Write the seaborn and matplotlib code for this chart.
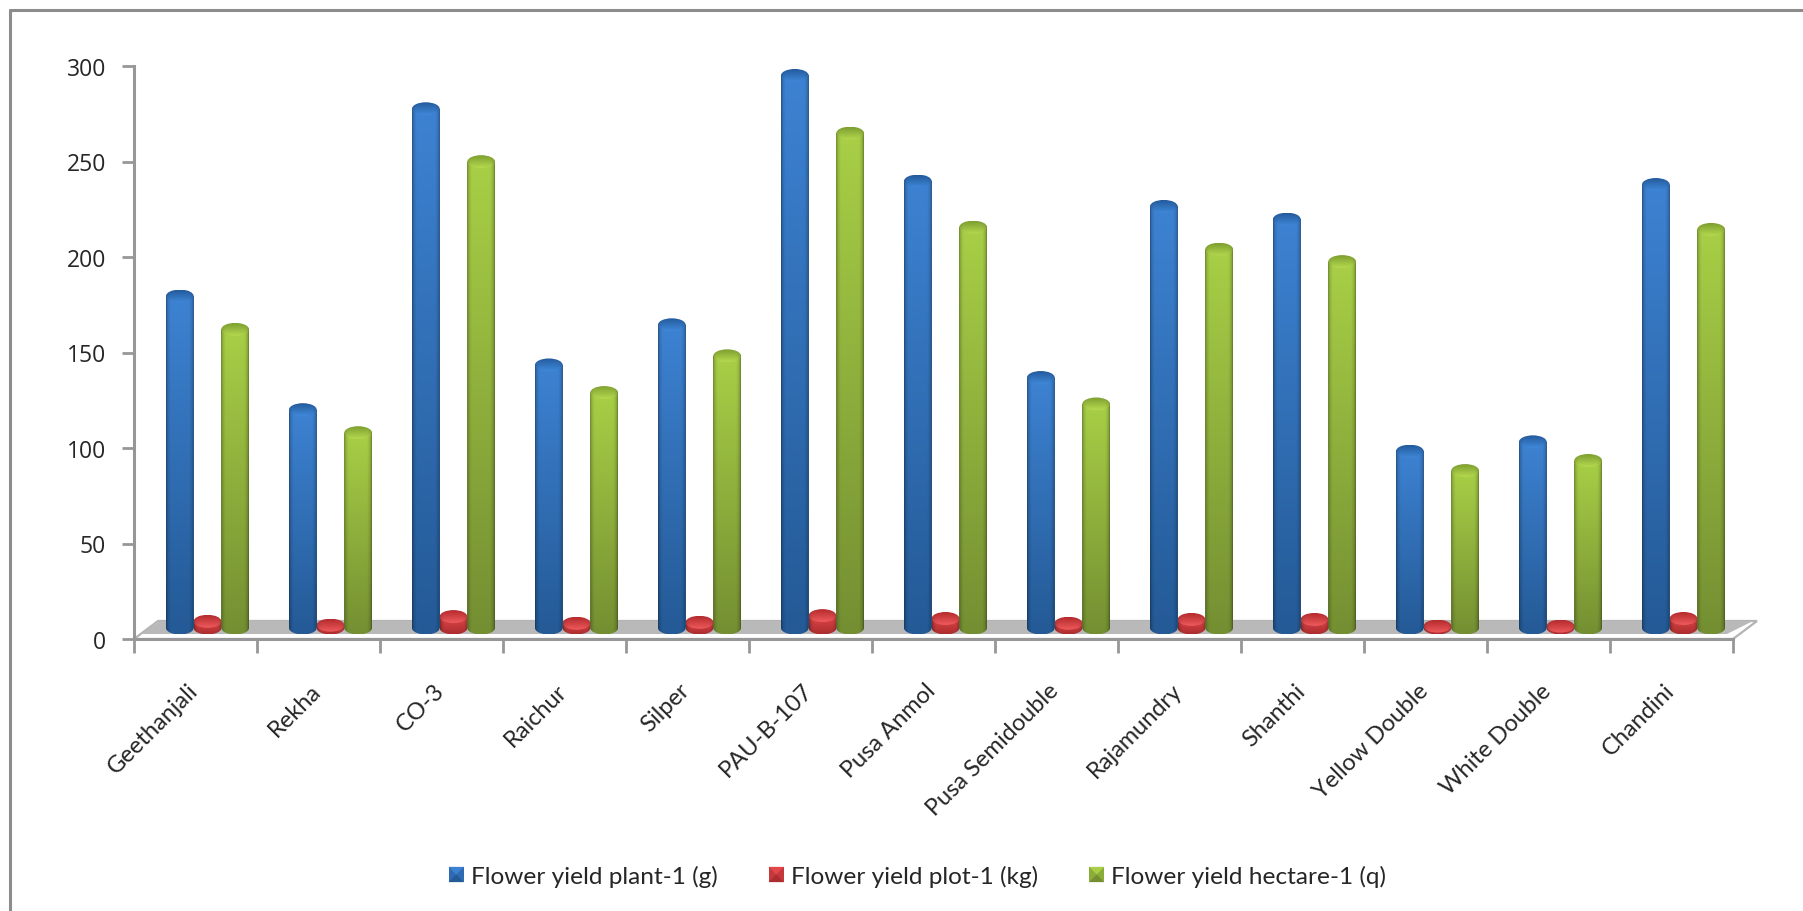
import numpy as np
import pandas as pd
import matplotlib
matplotlib.use("Agg")
import matplotlib.pyplot as plt
import seaborn as sns
from matplotlib.patches import Ellipse, Patch, Polygon, Rectangle
from matplotlib.path import Path
from matplotlib.patches import PathPatch
from matplotlib.legend_handler import HandlerBase

varieties = ["Geethanjali", "Rekha", "CO-3", "Raichur", "Silper", "PAU-B-107", "Pusa Anmol",
             "Pusa Semidouble", "Rajamundry", "Shanthi", "Yellow Double", "White Double", "Chandini"]
yield_plant = [174.4, 114.7, 272.8, 138.2, 159.3, 290.3, 234.8, 131.6, 221.5, 214.8, 92.9, 97.8, 233.0]
yield_plot = [3.5, 1.5, 6.0, 2.5, 3.0, 6.5, 5.0, 2.5, 4.5, 4.5, 1.0, 1.0, 5.0]
yield_hectare = [156.9, 102.6, 245.0, 123.7, 143.0, 260.0, 210.6, 117.7, 199.0, 192.5, 82.7, 88.0, 209.4]
series_names = ["Flower yield plant-1 (g)", "Flower yield plot-1 (kg)", "Flower yield hectare-1 (q)"]
yticks = [0, 50, 100, 150, 200, 250, 300]

# (top colour, bottom colour) of the cylinder shading for each series
shades = [("#3d82d2", "#245a96"), ("#e2474a", "#ab2d2f"), ("#a8cf46", "#748f32")]
cap_shades = [("#245a9c", "#3f88d8"), ("#b52b2e", "#ee5a5c"), ("#7d9f30", "#b4d84e")]
base_colors = ["#2f6bb3", "#c5383b", "#8aad3a"]

W, H = 1803, 912
FRAME = "#8c8c8c"
LABEL_FONT = ["Lato", "DejaVu Sans"]
AXIS_FONT = ["Open Sans", "DejaVu Sans"]

sns.set_theme(style="white")
fig = plt.figure(figsize=(W / 100, H / 100), dpi=100, facecolor="white")


def fig_rect(x0, x1, y_bottom, y_top):
    return [x0 / W, 1 - y_bottom / H, (x1 - x0) / W, (y_bottom - y_top) / H]


# Outer chart border, running off the top-left of the canvas area
fig.add_artist(plt.Line2D([9.5 / W, 9.5 / W], [0, 1 - 11 / H], color=FRAME, lw=2.2))
fig.add_artist(plt.Line2D([9.5 / W, 1], [1 - 11 / H, 1 - 11 / H], color=FRAME, lw=2.2))

# Front plane: carries the axis lines, ticks and the floor
ax_frame = fig.add_axes(fig_rect(134, 1733, 640, 67))
ax_frame.set_xlim(0, 13)
ax_frame.set_ylim(0, 300)
for side in ("top", "right"):
    ax_frame.spines[side].set_visible(False)
for side in ("left", "bottom"):
    ax_frame.spines[side].set_color("#979797")
    ax_frame.spines[side].set_linewidth(2.2)
ax_frame.set_yticks(yticks)
ax_frame.set_yticklabels([str(v) for v in yticks], family=AXIS_FONT, fontsize=16.5, color="#262626")
ax_frame.set_xticks(np.arange(14))
ax_frame.set_xticklabels([])
ax_frame.tick_params(axis="y", length=9, width=2, color="#979797", pad=11, left=True)
ax_frame.tick_params(axis="x", length=10, width=2, color="#979797", bottom=True)
ax_frame.patch.set_alpha(0)

for i, name in enumerate(varieties):
    ax_frame.annotate(name, xy=(i + 0.5, 0), xycoords=("data", "axes fraction"),
                      xytext=(-6, -29), textcoords="offset points", rotation=45,
                      ha="right", va="top", rotation_mode="anchor",
                      family=LABEL_FONT, fontsize=17, color="#262626")

to_ax = lambda px, py: ((px - 134) / 1599, (640 - py) / 573)
ax_frame.add_patch(Polygon([to_ax(134, 640), to_ax(1733, 640), to_ax(1757, 622), to_ax(158, 622)],
                           closed=True, transform=ax_frame.transAxes, clip_on=False,
                           facecolor="white", edgecolor="#b4b4b4", lw=1.6, zorder=1))
ax_frame.add_patch(Polygon([to_ax(141, 635), to_ax(1727, 635), to_ax(1753, 622), to_ax(160, 622)],
                           closed=True, transform=ax_frame.transAxes, clip_on=False,
                           facecolor="#b9b9b9", edgecolor="none", zorder=1.5))

# Bar plane: set back from the front plane by half of the floor depth
ax = fig.add_axes(fig_rect(146, 1745, 629, 58))
ax.patch.set_alpha(0)
long_df = pd.DataFrame({
    "variety": varieties * 3,
    "series": np.repeat(series_names, len(varieties)),
    "value": yield_plant + yield_plot + yield_hectare,
})
sns.barplot(data=long_df, x="variety", y="value", hue="series", order=varieties, hue_order=series_names,
            palette=base_colors, width=0.675, gap=0, dodge=True, legend=False, ax=ax, linewidth=0)
ax.set_xlim(-0.5, 12.5)
ax.set_ylim(0, 300)
ax.axis("off")

CAP_HEIGHT = 13 * 300 / 571


def gradient(top, bottom, ny, rim=0.62):
    """Vertical colour ramp multiplied by a rounded cross-section profile."""
    c0, c1 = np.array(matplotlib.colors.to_rgb(top)), np.array(matplotlib.colors.to_rgb(bottom))
    t = np.linspace(0, 1, ny)[:, None, None]
    ramp = c0[None, None, :] * (1 - t) + c1[None, None, :] * t
    u = np.linspace(-1, 1, 48)
    profile = rim + (1 - rim) * np.clip(np.sqrt(np.clip(1 - u ** 2, 0, 1)) * 1.35, 0, 1)
    return np.clip(ramp * profile[None, :, None], 0, 1)


n_per_series = len(varieties)
for idx, bar in enumerate(ax.patches[:3 * n_per_series]):
    s = idx // n_per_series
    x0, w, h = bar.get_x(), bar.get_width(), bar.get_height()
    cx = x0 + w / 2
    b = CAP_HEIGHT / 2
    # Cylinder wall: rectangle with a rounded lower rim
    verts = [(x0, h), (x0, 0)]
    codes = [Path.MOVETO, Path.LINETO]
    for a in np.linspace(np.pi, 2 * np.pi, 24)[1:]:
        verts.append((cx + w / 2 * np.cos(a), b * np.sin(a)))
        codes.append(Path.LINETO)
    verts += [(x0 + w, h), (x0, h)]
    codes += [Path.LINETO, Path.CLOSEPOLY]
    wall = PathPatch(Path(verts, codes), transform=ax.transData, facecolor="none", edgecolor="none")
    ax.add_patch(wall)
    wall.set_clip_on(False)
    im = ax.imshow(gradient(*shades[s], 64), extent=[x0, x0 + w, -b, h], origin="upper",
                   aspect="auto", zorder=3 + s * 0.01, interpolation="bilinear")
    im.set_clip_path(wall)
    im.set_clip_box(fig.bbox)

    cap = Ellipse((cx, h), w, CAP_HEIGHT, transform=ax.transData, facecolor="none", edgecolor="none")
    ax.add_patch(cap)
    cap.set_clip_on(False)
    ci = ax.imshow(gradient(*cap_shades[s], 24, rim=0.8), extent=[x0, x0 + w, h - b, h + b], origin="upper",
                   aspect="auto", zorder=3.2 + s * 0.01, interpolation="bilinear")
    ci.set_clip_path(cap)
    ci.set_clip_box(fig.bbox)
ax.set_xlim(-0.5, 12.5)
ax.set_ylim(0, 300)


class BevelHandler(HandlerBase):
    """Legend key: a square with a lighter upper and a darker lower facet."""

    def create_artists(self, legend, orig, xd, yd, width, height, fontsize, trans):
        side = 11.0
        x, y = -xd + (width - side) / 2, -yd + (height - side) / 2
        light, dark = orig.get_gid().split("|")
        square = Rectangle((x, y), side, side, facecolor=orig.get_facecolor(), edgecolor="none", transform=trans)
        up = Polygon([(x, y + side), (x + side, y + side), (x + side / 2, y + side / 2)],
                     facecolor=light, edgecolor="none", transform=trans)
        low = Polygon([(x, y), (x + side, y), (x + side / 2, y + side / 2)],
                      facecolor=dark, edgecolor="none", transform=trans)
        return [square, up, low]


handles = []
for color, (top, bottom) in zip(base_colors, shades):
    patch = Patch(facecolor=color, label="")
    patch.set_gid(f"{top}|{bottom}")
    handles.append(patch)

fig.legend(handles, series_names, handler_map={Patch: BevelHandler()}, ncol=3, frameon=False,
           loc="center", bbox_to_anchor=(917 / W, 1 - 877 / H), handlelength=0.7, handletextpad=0.25,
           columnspacing=2.05, prop={"family": LABEL_FONT, "size": 17.6}, labelcolor="#262626")

fig.savefig("out.png", dpi=100, facecolor="white")
